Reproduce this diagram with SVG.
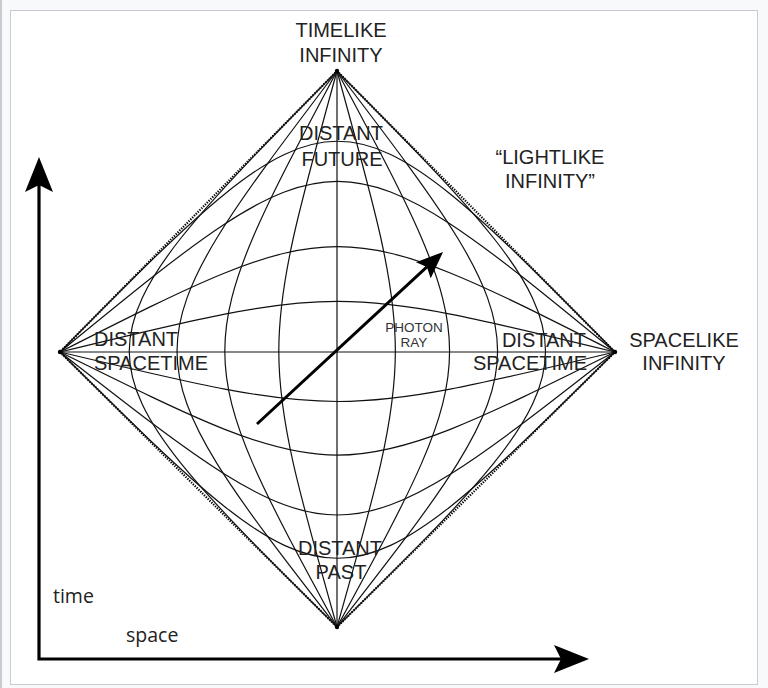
<svg xmlns="http://www.w3.org/2000/svg" width="768" height="688" viewBox="0 0 768 688">
  <defs>
    <style>
      .grid { fill: none; stroke: #111; stroke-width: 1.2; }
      .edge { fill: none; stroke: #000; stroke-width: 2.2; stroke-dasharray: 1.3 1.3; }
      .axis { fill: none; stroke: #000; stroke-width: 3.2; }
      .ray { fill: none; stroke: #000; stroke-width: 3; }
      .lbl { font-family: "Liberation Sans", Arial, sans-serif; font-size: 20px; fill: #222; }
      .small { font-family: "Liberation Sans", Arial, sans-serif; font-size: 13.5px; fill: #333; }
      .ax { font-family: "Open Sans", "Noto Sans", sans-serif; font-size: 19.5px; fill: #222; }
    </style>
    <marker id="axhead" markerUnits="userSpaceOnUse" markerWidth="35" markerHeight="28" viewBox="0 0 35 28" refX="7" refY="14" orient="auto-start-reverse">
      <path d="M0,0 L35,14 L0,28 L7,14 Z" fill="#000"/>
    </marker>
    <marker id="rayhead" markerUnits="userSpaceOnUse" markerWidth="27" markerHeight="22" viewBox="0 0 27 22" refX="5" refY="11" orient="auto">
      <path d="M0,0 L27,11 L0,22 L5,11 Z" fill="#000"/>
    </marker>
  </defs>

  <!-- frame -->
  <rect x="0" y="0" width="768" height="688" fill="#f8f9fa"/>
  <line x1="1" y1="0" x2="1" y2="688" stroke="#c8ccd1" stroke-width="2"/>
  <rect x="10.5" y="10.5" width="747" height="674" fill="#fff" stroke="#c8ccd1" stroke-width="1"/>

  <g id="connectors">
    <!-- diamond boundary (null infinity) -->
    <path class="edge" d="M337,71 L615,352 L337,627 L60,352 Z"/>
    <!-- constant-time curves -->
    <path class="grid" d="M60,352 H615"/>
    <path class="grid" d="M60,352 C337.5,284.6 337.5,284.6 615,352"/>
    <path class="grid" d="M60,352 C337.5,211.5 337.5,211.5 615,352"/>
    <path class="grid" d="M60,352 C337.5,124.4 337.5,124.4 615,352"/>
    <path class="grid" d="M60,352 C337.5,71 337.5,71 615,352"/>
    <path class="grid" d="M60,352 C337.5,418 337.5,418 615,352"/>
    <path class="grid" d="M60,352 C337.5,489.5 337.5,489.5 615,352"/>
    <path class="grid" d="M60,352 C337.5,569.3 337.5,569.3 615,352"/>
    <path class="grid" d="M60,352 C337.5,627 337.5,627 615,352"/>
    <!-- constant-space curves -->
    <path class="grid" d="M337,71 V627"/>
    <path class="grid" d="M337,71 C259.4,352 259.4,352 337,627"/>
    <path class="grid" d="M337,71 C187.4,352 187.4,352 337,627"/>
    <path class="grid" d="M337,71 C123.7,352 123.7,352 337,627"/>
    <path class="grid" d="M337,71 C60,352 60,352 337,627"/>
    <path class="grid" d="M337,71 C414.8,352 414.8,352 337,627"/>
    <path class="grid" d="M337,71 C487.1,352 487.1,352 337,627"/>
    <path class="grid" d="M337,71 C551.1,352 551.1,352 337,627"/>
    <path class="grid" d="M337,71 C615,352 615,352 337,627"/>
    <!-- photon ray -->
    <path class="ray" d="M257,424 L426.9,266.9" marker-end="url(#rayhead)"/>
    <!-- axes -->
    <path class="axis" d="M39,185 V659 H561" marker-start="url(#axhead)" marker-end="url(#axhead)"/>
  </g>

  <g id="vertex-top"><circle cx="337" cy="71" r="2.2" fill="#000"/></g>
  <g id="vertex-bottom"><circle cx="337" cy="627" r="2.2" fill="#000"/></g>
  <g id="vertex-left"><circle cx="60" cy="352" r="2.2" fill="#000"/></g>
  <g id="vertex-right"><circle cx="615" cy="352" r="2.2" fill="#000"/></g>

  <g id="label-timelike" class="lbl" text-anchor="middle">
    <text x="341" y="37">TIMELIKE</text>
    <text x="341" y="62">INFINITY</text>
  </g>
  <g id="label-future" class="lbl" text-anchor="middle">
    <text x="341" y="140">DISTANT</text>
    <text x="342" y="166">FUTURE</text>
  </g>
  <g id="label-past" class="lbl" text-anchor="middle">
    <text x="340" y="555">DISTANT</text>
    <text x="341" y="579">PAST</text>
  </g>
  <g id="label-lightlike" class="lbl" text-anchor="middle">
    <text x="550" y="164">“LIGHTLIKE</text>
    <text x="550" y="188">INFINITY”</text>
  </g>
  <g id="label-spacetime-left" class="lbl" text-anchor="start">
    <text x="94" y="346">DISTANT</text>
    <text x="94" y="370">SPACETIME</text>
  </g>
  <g id="label-spacetime-right" class="lbl" text-anchor="end">
    <text x="586" y="347">DISTANT</text>
    <text x="587" y="370">SPACETIME</text>
  </g>
  <g id="label-spacelike" class="lbl" text-anchor="middle">
    <text x="684" y="347">SPACELIKE</text>
    <text x="684" y="370">INFINITY</text>
  </g>
  <g id="label-photon" class="small" text-anchor="middle">
    <text x="414" y="332">PHOTON</text>
    <text x="414" y="347">RAY</text>
  </g>
  <g id="label-axes" class="ax">
    <text x="53" y="603">time</text>
    <text x="126" y="642">space</text>
  </g>
</svg>
